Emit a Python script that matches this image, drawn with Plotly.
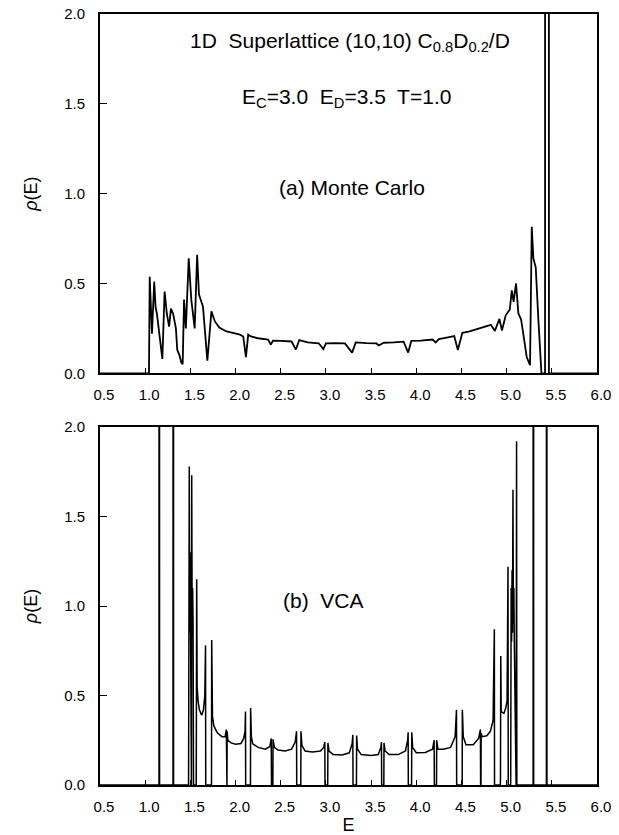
import plotly.graph_objects as go

# ---------------- data ----------------
# (a) Monte Carlo density of states
mc_E = [0.5, 1.042, 1.05, 1.075, 1.10, 1.115, 1.13, 1.16, 1.19, 1.215, 1.24, 1.265, 1.285, 1.31,
        1.34, 1.355, 1.38, 1.40, 1.415, 1.43, 1.45, 1.482, 1.51, 1.548, 1.575, 1.595, 1.64,
        1.688, 1.733, 1.77, 1.82, 1.9, 1.96, 2.05, 2.085, 2.115, 2.14, 2.17, 2.25, 2.36, 2.39,
        2.415, 2.5, 2.62, 2.668, 2.705, 2.8, 2.92, 2.972, 3.0, 3.1, 3.21, 3.29, 3.33, 3.45,
        3.56, 3.585, 3.64, 3.75, 3.86, 3.91, 3.945, 4.05, 4.18, 4.215, 4.25, 4.35, 4.42, 4.46,
        4.51, 4.58, 4.66, 4.75, 4.826, 4.87, 4.92, 4.948, 4.99, 5.035, 5.057, 5.077, 5.104,
        5.13, 5.16, 5.19, 5.222, 5.259, 5.278, 5.296, 5.322, 5.35, 5.38, 5.385, 5.425, 5.428,
        5.465, 5.468, 6.0]
mc_rho = [0, 0, 0.537, 0.22, 0.51, 0.37, 0.33, 0.22, 0.08, 0.455, 0.33, 0.26, 0.36, 0.33,
          0.25, 0.13, 0.10, 0.06, 0.05, 0.41, 0.25, 0.64, 0.41, 0.25, 0.66, 0.44, 0.37,
          0.07, 0.345, 0.29, 0.255, 0.233, 0.225, 0.215, 0.205, 0.09, 0.215, 0.205, 0.195, 0.188, 0.16,
          0.182, 0.18, 0.177, 0.132, 0.185, 0.172, 0.167, 0.135, 0.167, 0.168, 0.166, 0.115, 0.172, 0.168,
          0.166, 0.155, 0.17, 0.172, 0.176, 0.115, 0.18, 0.182, 0.188, 0.172, 0.19, 0.2, 0.207, 0.13,
          0.225, 0.232, 0.245, 0.262, 0.27, 0.236, 0.303, 0.238, 0.323, 0.355, 0.462, 0.397, 0.5,
          0.333, 0.30, 0.2, 0.09, 0.045, 0.815, 0.64, 0.59, 0.31, 0.015, 0, 0, 20,
          20, 0, 0]

# (b) VCA density of states
vca_E = [0.5, 1.153, 1.156, 1.159, 1.308, 1.311, 1.314,
         1.480, 1.488, 1.492, 1.497, 1.500, 1.505, 1.508, 1.512, 1.515, 1.520, 1.525, 1.530, 1.535,
         1.565, 1.570, 1.575, 1.585, 1.600, 1.625, 1.645, 1.660, 1.668, 1.670, 1.734, 1.736,
         1.745, 1.760, 1.800, 1.850, 1.885, 1.898, 1.900, 1.905, 1.907, 1.915, 1.950, 2.000,
         2.060, 2.090, 2.105, 2.110, 2.112, 2.165, 2.167, 2.175, 2.190, 2.250, 2.330, 2.380,
         2.395, 2.398, 2.413, 2.415, 2.430, 2.470, 2.550, 2.620, 2.660, 2.675, 2.677, 2.722,
         2.724, 2.735, 2.770, 2.850, 2.940, 2.975, 2.988, 2.990, 3.020, 3.022, 3.035, 3.080,
         3.180, 3.260, 3.290, 3.298, 3.300, 3.338, 3.340, 3.350, 3.390, 3.500, 3.580, 3.608,
         3.615, 3.617, 3.641, 3.643, 3.655, 3.700, 3.800, 3.880, 3.905, 3.910, 3.912, 3.948,
         3.950, 3.960, 4.000, 4.100, 4.180, 4.198, 4.200, 4.224, 4.226, 4.240, 4.300, 4.380,
         4.430, 4.445, 4.447, 4.508, 4.510, 4.520, 4.550, 4.630, 4.690, 4.710, 4.712, 4.716,
         4.718, 4.730, 4.780, 4.820, 4.850, 4.864, 4.866, 4.930, 4.932, 4.935, 4.940, 4.970,
         4.990, 5.005, 5.015, 5.018, 5.045, 5.050, 5.055, 5.060, 5.065, 5.070, 5.075, 5.080,
         5.085, 5.100, 5.105, 5.110, 5.113, 5.293, 5.296, 5.299, 5.440, 5.443, 5.446, 6.0]
vca_rho = [0, 0, 20, 0, 0, 20, 0,
           0, 1.78, 0.85, 1.30, 0.80, 1.25, 0.0, 0.0, 1.73, 0.85, 1.10, 0.90, 0,
           0, 1.15, 0.55, 0.47, 0.42, 0.39, 0.42, 0.50, 0.78, 0, 0, 0.81,
           0.38, 0.33, 0.29, 0.27, 0.27, 0.31, 0, 0, 0.30, 0.25, 0.235, 0.228,
           0.232, 0.26, 0.30, 0.41, 0, 0, 0.43, 0.27, 0.23, 0.21, 0.20, 0.215,
           0.26, 0, 0, 0.255, 0.21, 0.195, 0.19, 0.20, 0.24, 0.30, 0, 0,
           0.30, 0.22, 0.19, 0.185, 0.19, 0.21, 0.24, 0, 0, 0.235, 0.19, 0.17,
           0.168, 0.18, 0.23, 0.28, 0, 0, 0.276, 0.20, 0.17, 0.165, 0.17, 0.21,
           0.24, 0, 0, 0.235, 0.19, 0.17, 0.17, 0.19, 0.25, 0.295, 0, 0,
           0.295, 0.21, 0.18, 0.182, 0.20, 0.25, 0, 0, 0.25, 0.20, 0.20, 0.21,
           0.27, 0.42, 0, 0, 0.42, 0.27, 0.225, 0.225, 0.26, 0.31, 0, 0,
           0.29, 0.27, 0.275, 0.30, 0.36, 0.87, 0, 0, 0.04, 0.72, 0.41, 0.40,
           0.43, 0.47, 1.22, 0, 0, 1.10, 0.80, 1.20, 0.85, 1.65, 0.90, 1.10,
           0.80, 0, 0, 1.92, 0, 0, 20, 0, 0, 20, 0, 0]

x_ticks = [0.5, 1.0, 1.5, 2.0, 2.5, 3.0, 3.5, 4.0, 4.5, 5.0, 5.5, 6.0]
x_tick_text = ["0.5", "1.0", "1.5", "2.0", "2.5", "3.0", "3.5", "4.0", "4.5", "5.0", "5.5", "6.0"]
y_ticks = [0.0, 0.5, 1.0, 1.5, 2.0]
y_tick_text = ["0.0", "0.5", "1.0", "1.5", "2.0"]

# ---------------- figure ----------------
FONT = "Liberation Sans, Arial, sans-serif"
fig = go.Figure()
fig.add_trace(go.Scatter(x=mc_E, y=mc_rho, mode="lines", xaxis="x", yaxis="y",
                         line=dict(color="black", width=1.8), showlegend=False, hoverinfo="skip"))
fig.add_trace(go.Scatter(x=vca_E, y=vca_rho, mode="lines", xaxis="x2", yaxis="y2",
                         line=dict(color="black", width=1.5), showlegend=False, hoverinfo="skip"))

xcommon = dict(range=[0.5, 6.0], tickmode="array", tickvals=x_ticks, ticktext=x_tick_text,
               ticks="inside", ticklen=5, tickwidth=1, tickcolor="black",
               showline=True, linecolor="black", linewidth=2, mirror=True,
               showgrid=False, zeroline=False, ticklabelshift=4, ticklabelstandoff=7,
               automargin=False,
               tickfont=dict(family=FONT, size=15, color="black"))
ycommon = dict(range=[0, 2.0], tickmode="array", tickvals=y_ticks, ticktext=y_tick_text,
               ticks="inside", ticklen=7, tickwidth=1, tickcolor="black",
               showline=True, linecolor="black", linewidth=2, mirror=True,
               showgrid=False, zeroline=False, ticklabelstandoff=10, automargin=False,
               tickfont=dict(family=FONT, size=15, color="black"),
               title=dict(text="<i>ρ</i>(E)", font=dict(family=FONT, size=18, color="black"),
                          standoff=22))

fig.update_layout(
    width=619, height=835,
    margin=dict(l=100, r=22, t=14, b=50),
    paper_bgcolor="white", plot_bgcolor="white",
    xaxis=dict(**xcommon, anchor="y"),
    yaxis=dict(**ycommon, anchor="x", domain=[0.534, 1.0]),
    xaxis2=dict(**xcommon, anchor="y2",
                title=dict(text="E", font=dict(family=FONT, size=18, color="black"), standoff=10)),
    yaxis2=dict(**ycommon, anchor="x2", domain=[0.0, 0.4643]),
)

ann_font = dict(family=FONT, size=21, color="black")
fig.add_annotation(x=3.267, y=1.845, xref="x", yref="y", showarrow=False, font=ann_font,
                   text="1D  Superlattice (10,10) C<sub>0.8</sub>D<sub>0.2</sub>/D")
fig.add_annotation(x=3.233, y=1.53, xref="x", yref="y", showarrow=False, font=ann_font,
                   text="E<sub>C</sub>=3.0  E<sub>D</sub>=3.5  T=1.0")
fig.add_annotation(x=3.289, y=1.037, xref="x", yref="y", showarrow=False, font=ann_font,
                   text="(a) Monte Carlo")
fig.add_annotation(x=2.968, y=1.033, xref="x2", yref="y2", showarrow=False, font=ann_font,
                   text="(b)  VCA")

fig.write_html("out.html")
